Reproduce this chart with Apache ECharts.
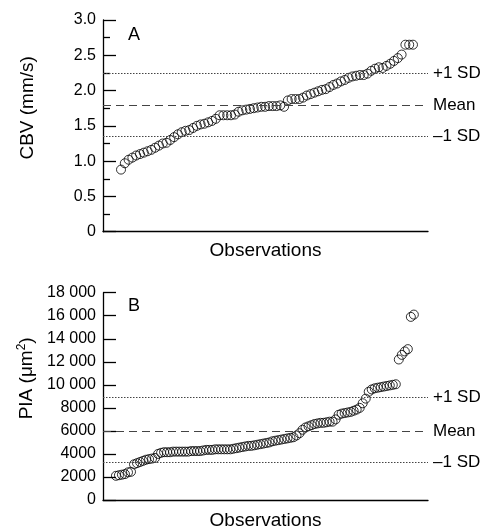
<!DOCTYPE html>
<html>
<head>
<meta charset="utf-8">
<script src="https://cdn.jsdelivr.net/npm/echarts@6/dist/echarts.min.js"></script>
<style>
html,body{margin:0;padding:0;background:#fff;}
#chart{width:481px;height:531px;}
</style>
</head>
<body>
<div id="chart"></div>
<script>
// Panel A: CBV (mm/s), sorted observations
const cbvValues = [
  0.88, 0.97, 1.02, 1.05, 1.08, 1.10, 1.12, 1.14, 1.16, 1.19,
  1.22, 1.25, 1.26, 1.30, 1.34, 1.38, 1.41, 1.43, 1.44, 1.47,
  1.50, 1.52, 1.53, 1.55, 1.57, 1.60, 1.65, 1.65, 1.65, 1.65,
  1.66, 1.70, 1.72, 1.73, 1.74, 1.75, 1.76, 1.77, 1.77, 1.78,
  1.78, 1.78, 1.79, 1.77, 1.86, 1.88, 1.88, 1.88, 1.90, 1.93,
  1.95, 1.97, 1.99, 2.01, 2.02, 2.05, 2.08, 2.10, 2.13, 2.15,
  2.18, 2.20, 2.21, 2.22, 2.22, 2.24, 2.28, 2.31, 2.33, 2.32,
  2.35, 2.38, 2.42, 2.46, 2.51, 2.65, 2.65, 2.65
];
// Panel B: PIA (um^2), sorted observations
const piaValues = [
  2100, 2150, 2200, 2250, 2400, 2450, 3100, 3200, 3300, 3400,
  3500, 3550, 3600, 3650, 4000, 4100, 4150, 4150, 4150, 4200,
  4200, 4200, 4200, 4200, 4200, 4250, 4250, 4250, 4250,
  4300, 4350, 4350, 4350, 4400, 4400, 4400, 4400, 4400, 4400, 4450,
  4500, 4550, 4600, 4650, 4700, 4700, 4750,
  4800, 4850, 4900, 4950, 5000,
  5100, 5150, 5200, 5250, 5300, 5350, 5400, 5450,
  5600, 5800,
  6100, 6300, 6400, 6500,
  6600, 6650, 6700, 6700, 6750, 6800, 6800,
  7000,
  7400, 7500, 7550, 7600, 7650, 7750, 7850,
  8000, 8400, 8800,
  9400, 9600, 9700, 9750, 9800, 9850, 9900, 9950, 10000, 10050,
  12200, 12600, 12900, 13100, 15900, 16100
];
const refLabels = ['+1 SD', 'Mean', '\u20131 SD'];
const cbvRef = [2.24, 1.795, 1.355];
const piaRef = [8950, 6000, 3300];
const cbvTicks = [0, 0.5, 1.0, 1.5, 2.0, 2.5, 3.0];
const piaTicks = [0, 2000, 4000, 6000, 8000, 10000, 12000, 14000, 16000, 18000];

const FONT = 'Liberation Sans, Arial, Helvetica, sans-serif';
const refStyles = [
  {type: [1.5, 1.5], color: '#444'},
  {type: [8, 5], color: '#444'},
  {type: [1.5, 1.5], color: '#444'}
];

function markLines(vals) {
  return vals.map((v, i) => ({
    yAxis: v,
    name: refLabels[i],
    lineStyle: {type: refStyles[i].type, color: refStyles[i].color, width: 1}
  }));
}

function pairs(arr) { return arr.map((v, i) => [i, v]); }

const chart = echarts.init(document.getElementById('chart'), null, {renderer: 'canvas'});

const axisLineStyle = {color: '#000', width: 1.3};

const option = {
  animation: false,
  backgroundColor: '#fff',
  textStyle: {fontFamily: FONT},
  grid: [
    {left: 103, right: 53, top: 20, height: 211.7},
    {left: 103, right: 53, top: 292.7, height: 211.3}
  ],
  graphic: [
    {type: 'text', left: 128, top: 26, style: {text: 'A', font: '18px ' + FONT, fill: '#000'}},
    {type: 'text', left: 128, top: 297, style: {text: 'B', font: '18px ' + FONT, fill: '#000'}}
  ],
  xAxis: [
    {
      gridIndex: 0, type: 'value', min: -4.75, max: 80.96,
      axisLine: {show: true, onZero: false, lineStyle: axisLineStyle},
      axisTick: {show: false}, axisLabel: {show: false}, splitLine: {show: false},
      name: 'Observations', nameLocation: 'middle', nameGap: 10,
      nameTextStyle: {fontSize: 19, color: '#000', fontFamily: FONT}
    },
    {
      gridIndex: 1, type: 'value', min: -4.3, max: 103.7,
      axisLine: {show: true, onZero: false, lineStyle: axisLineStyle},
      axisTick: {show: false}, axisLabel: {show: false}, splitLine: {show: false},
      name: 'Observations', nameLocation: 'middle', nameGap: 11,
      nameTextStyle: {fontSize: 19, color: '#000', fontFamily: FONT}
    }
  ],
  yAxis: [
    {
      gridIndex: 0, type: 'value', min: cbvTicks[0], max: cbvTicks[cbvTicks.length - 1], interval: 0.5,
      axisLine: {show: true, onZero: false, lineStyle: axisLineStyle},
      axisTick: {show: true, inside: true, length: 13, lineStyle: {color: '#000', width: 1.3}},
      minorTick: {show: true, splitNumber: 2, length: 7, lineStyle: {color: '#000', width: 1.3}},
      splitLine: {show: false},
      axisLabel: {
        margin: 7, fontSize: 16, color: '#000', fontFamily: FONT,
        formatter: v => (v === 0 ? '0' : v.toFixed(1))
      },
      name: 'CBV (mm/s)', nameLocation: 'middle', nameGap: 66, nameRotate: 90,
      nameTextStyle: {fontSize: 19, color: '#000', fontFamily: FONT, padding: [0, 0, 0, 36]}
    },
    {
      gridIndex: 1, type: 'value', min: piaTicks[0], max: piaTicks[piaTicks.length - 1], interval: 2000,
      axisLine: {show: true, onZero: false, lineStyle: axisLineStyle},
      axisTick: {show: true, inside: true, length: 13, lineStyle: {color: '#000', width: 1.3}},
      splitLine: {show: false},
      axisLabel: {
        margin: 7, fontSize: 16, color: '#000', fontFamily: FONT,
        formatter: v => (v >= 10000 ? Math.floor(v / 1000) + ' ' + String(v % 1000).padStart(3, '0') : String(v))
      },
      name: 'PIA (\u03bcm{sup|2})', nameLocation: 'middle', nameGap: 66, nameRotate: 90,
      nameTextStyle: {
        fontSize: 19, color: '#000', fontFamily: FONT, padding: [0, 0, 0, 36],
        rich: {sup: {fontSize: 12, verticalAlign: 'top', padding: [0, 0, 9, 0], color: '#000', fontFamily: FONT}}
      }
    }
  ],
  series: [
    {
      type: 'scatter', xAxisIndex: 0, yAxisIndex: 0,
      data: pairs(cbvValues), symbol: 'circle', symbolSize: 9,
      itemStyle: {color: 'rgba(255,255,255,0)', borderColor: '#000', borderWidth: 1},
      markLine: {
        silent: true, symbol: 'none',
        label: {position: 'end', distance: 5, fontSize: 17, color: '#000', fontFamily: FONT, formatter: p => p.name},
        data: markLines(cbvRef)
      }
    },
    {
      type: 'scatter', xAxisIndex: 1, yAxisIndex: 1,
      data: pairs(piaValues), symbol: 'circle', symbolSize: 9,
      itemStyle: {color: 'rgba(255,255,255,0)', borderColor: '#000', borderWidth: 1},
      markLine: {
        silent: true, symbol: 'none',
        label: {position: 'end', distance: 5, fontSize: 17, color: '#000', fontFamily: FONT, formatter: p => p.name},
        data: markLines(piaRef)
      }
    }
  ]
};
chart.setOption(option);
</script>
</body>
</html>
